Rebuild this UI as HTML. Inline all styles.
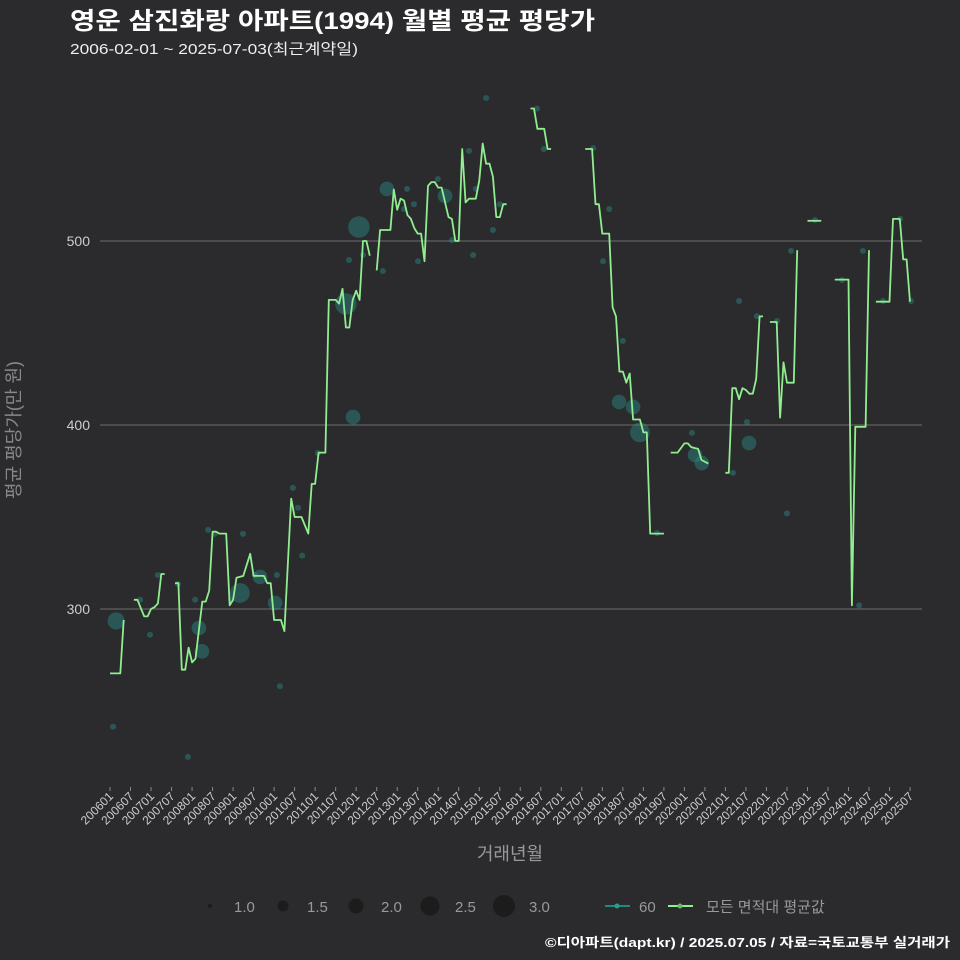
<!DOCTYPE html>
<html><head><meta charset="utf-8">
<style>
html,body{margin:0;padding:0;background:#2b2b2d;}
svg{display:block;font-family:"Liberation Sans","Noto Sans CJK KR",sans-serif;}
</style></head>
<body>
<svg id="chart" width="960" height="960" viewBox="0 0 960 960">
<rect x="0" y="0" width="960" height="960" fill="#2b2b2d"/>
<text x="70" y="29" fill="#ffffff" font-size="24" font-weight="bold" textLength="525" lengthAdjust="spacingAndGlyphs">영운 삼진화랑 아파트(1994) 월별 평균 평당가</text>
<text x="70" y="54" fill="#eeeeee" font-size="15" textLength="288" lengthAdjust="spacingAndGlyphs">2006-02-01 ~ 2025-07-03(최근계약일)</text>
<g id="grid"></g>
<g id="yticks"></g>
<g id="xticks"></g>
<g id="bubbles"></g>
<g id="lines"></g>
<text x="510" y="860" fill="#999" font-size="18" text-anchor="middle">거래년월</text>
<text transform="translate(20,430) rotate(-90)" fill="#888" font-size="18" text-anchor="middle">평균 평당가(만 원)</text>
<g>
<circle cx="210" cy="906" r="2" fill="#1c1c1c"/>
<text x="234" y="912" fill="#999" font-size="15">1.0</text>
<circle cx="283" cy="906" r="5.5" fill="#1c1c1c"/>
<text x="307" y="912" fill="#999" font-size="15">1.5</text>
<circle cx="356" cy="906" r="7.5" fill="#1c1c1c"/>
<text x="381" y="912" fill="#999" font-size="15">2.0</text>
<circle cx="430" cy="906" r="9.5" fill="#1c1c1c"/>
<text x="455" y="912" fill="#999" font-size="15">2.5</text>
<circle cx="504" cy="906" r="11" fill="#1c1c1c"/>
<text x="529" y="912" fill="#999" font-size="15">3.0</text>
<line x1="605" y1="906" x2="630" y2="906" stroke="#1f8a84" stroke-width="2"/>
<circle cx="617" cy="906" r="2.5" fill="#2a9d8f"/>
<text x="639" y="912" fill="#999" font-size="15">60</text>
<line x1="668" y1="906" x2="693" y2="906" stroke="#90ee90" stroke-width="2"/>
<circle cx="680" cy="906" r="2.5" fill="#6ab86a"/>
<text x="706" y="912" fill="#999" font-size="15">모든 면적대 평균값</text>
</g>
<text x="950" y="947" fill="#ffffff" font-size="13" font-weight="bold" text-anchor="end" textLength="405" lengthAdjust="spacingAndGlyphs">©디아파트(dapt.kr) / 2025.07.05 / 자료=국토교통부 실거래가</text>
</svg>
<script>
// month index from 2006-01; null = gap
const lineMonths = [0,3,4,null,7,8,10,11,12,13,14,15,16,null,19,20,21,22,23,24,25,27,28,29,30,31,32,34,35,36,37,39,41,42,45,46,47,48,50,51,53,54,56,58,59,60,61,63,64,66,67,68,69,70,71,72,73,74,75,76,null,78,79,82,83,84,85,86,87,88,89,90,91,92,93,94,95,96,97,98,99,100,101,102,103,104,105,107,108,109,110,111,112,113,114,115,116,null,123,124,125,127,128,129,null,139,141,142,143,144,146,147,148,149,150,151,152,153,155,156,157,158,162,null,164,166,168,169,170,172,173,175,null,180,181,182,183,184,185,186,187,188,189,190,191,null,193,195,196,197,198,200,201,null,204,208,null,212,216,217,218,221,222,null,224,228,229,231,232,233,234];
const lineValues = [265,265,294,null,305,305,296,296,300,301,303,319,319,null,314,314,267,267,279,271,273,304,304,310,342,342,341,341,302,305,317,318,330,318,318,314,314,294,294,288,360,350,350,341,368,368,385,385,468,468,466,474,453,453,468,473,468,500,500,492,null,484,506,506,528,517,523,522,514,512,507,504,504,489,530,532,532,529,529,521,513,512,500,500,550,521,523,523,533,553,542,542,535,513,513,520,520,null,572,572,561,561,550,550,null,550,550,520,520,504,504,464,459,429,429,423,428,403,403,396,396,341,341,null,385,385,390,390,388,387,381,379,null,374,374,420,420,414,420,419,417,417,425,459,459,null,456,456,404,434,423,423,495,null,511,511,null,479,479,302,399,399,495,null,467,467,512,512,490,490,467];
const bubbleMonths = [0.9,1.8,8.8,11.7,14,19.9,22.8,24.9,26,26.9,28.7,30.7,35.4,38,38.9,42.4,43.9,48.3,48.8,49.7,53.5,55,56.2,60.8,69,69.9,71.1,72.8,74,79.8,81,86.9,86,88.9,90.1,95.9,98,100,105,106.2,107,110,112,114,124.9,126.9,141.3,146,144.2,150,148.9,153,155,160,170.2,171.1,173.1,182.2,184,186.3,186.9,189.2,195.1,198,199.2,206.2,214.1,219.1,220.2,226.1,231.1,234.3];
const bubbleValues = [236,293.5,305,286,318.5,313.6,219.6,305,289.7,277,343,340.8,305,308.7,340.8,318.5,317.4,303.3,318.5,258,365.8,355,329,384.8,465.8,489.7,404.3,507.6,492.4,483.7,528.3,528.3,517.4,520,489,533.7,524.5,500.5,549,492.4,528.3,577.7,506,520,572,550,550.5,517.4,489,445.7,412.5,409.8,396,341.3,395.7,383.7,379.3,374,467.4,401.6,390.2,459.2,456.5,352,494.6,511.4,478.8,302,494.6,467.4,512,467.4];
const bubbleSizes = [1,2.3,1,1,1,1,1,1,2,2,1,1,1,2.6,1,1,2,2,1,1,1,1,1,1,2.8,1,2,2.8,1,1,2,1,1,1,1,1,2,1,1,1,1,1,1,1,1,1,1,1,1,1,2,2,2.6,1,1,2,2,1,1,1,2,1,1,1,1,1,1,1,1,1,1,1];
const yTicks = [300,400,500];
const xTickYears = [];
for (let y = 2006; y <= 2025; y++) { xTickYears.push(y); }

const NS = "http://www.w3.org/2000/svg";
function xs(m){ return 110 + m * 3.419; }
function ys(v){ return 609 - (v - 300) * 1.84; }
function rs(s){ return 3 + (s - 1) * 4.3; }
function mk(tag, attrs, parent){ const e = document.createElementNS(NS, tag); for (const k in attrs) e.setAttribute(k, attrs[k]); parent.appendChild(e); return e; }

const grid = document.getElementById('grid');
const yt = document.getElementById('yticks');
yTicks.forEach(v => {
  const l = mk('line', {x1:100, x2:922, y1:ys(v), y2:ys(v), stroke:'#6e6e6e', 'stroke-width':1}, grid);
  
  
  const t = mk('text', {x:90, y:ys(v)+5, fill:'#cccccc', 'font-size':14, 'text-anchor':'end'}, yt);
  t.textContent = v;
  
  
});

const xt = document.getElementById('xticks');
xTickYears.forEach(yr => {
  [1,7].forEach(mo => {
    if (yr === 2025 && mo > 7) return;
    const m = (yr - 2006) * 12 + (mo - 1);
    const x = xs(m);
    const tk = mk('line', {x1:x, x2:x, y1:787, y2:791, stroke:'#888', 'stroke-width':1}, xt);
    
    
    const lab = '' + yr + (mo < 10 ? '0' : '') + mo;
    const t = mk('text', {x:x+4, y:797, fill:'#cccccc', 'font-size':12, 'text-anchor':'end', transform:'rotate(-45 ' + (x+4) + ' 797)'}, xt);
    t.textContent = lab;
    
    
  });
});

const bg = document.getElementById('bubbles');
bubbleMonths.forEach((m, i) => {
  const c = mk('circle', {cx:xs(m), cy:ys(bubbleValues[i]), r:rs(bubbleSizes[i]), fill:'#2a8f88', 'fill-opacity':0.45}, bg);
  
  
});

const lg = document.getElementById('lines');
let seg = [];
function flush(){
  if (seg.length > 1) {
    const p = mk('polyline', {points: seg.join(' '), fill:'none', stroke:'#90ee90', 'stroke-width':1.8, 'stroke-linejoin':'round'}, lg);
    
    
  }
  seg = [];
}
lineMonths.forEach((m, i) => {
  if (m === null || lineValues[i] === null) { flush(); return; }
  seg.push(xs(m).toFixed(1) + ',' + ys(lineValues[i]).toFixed(1));
});
flush();
</script>
</body></html>
